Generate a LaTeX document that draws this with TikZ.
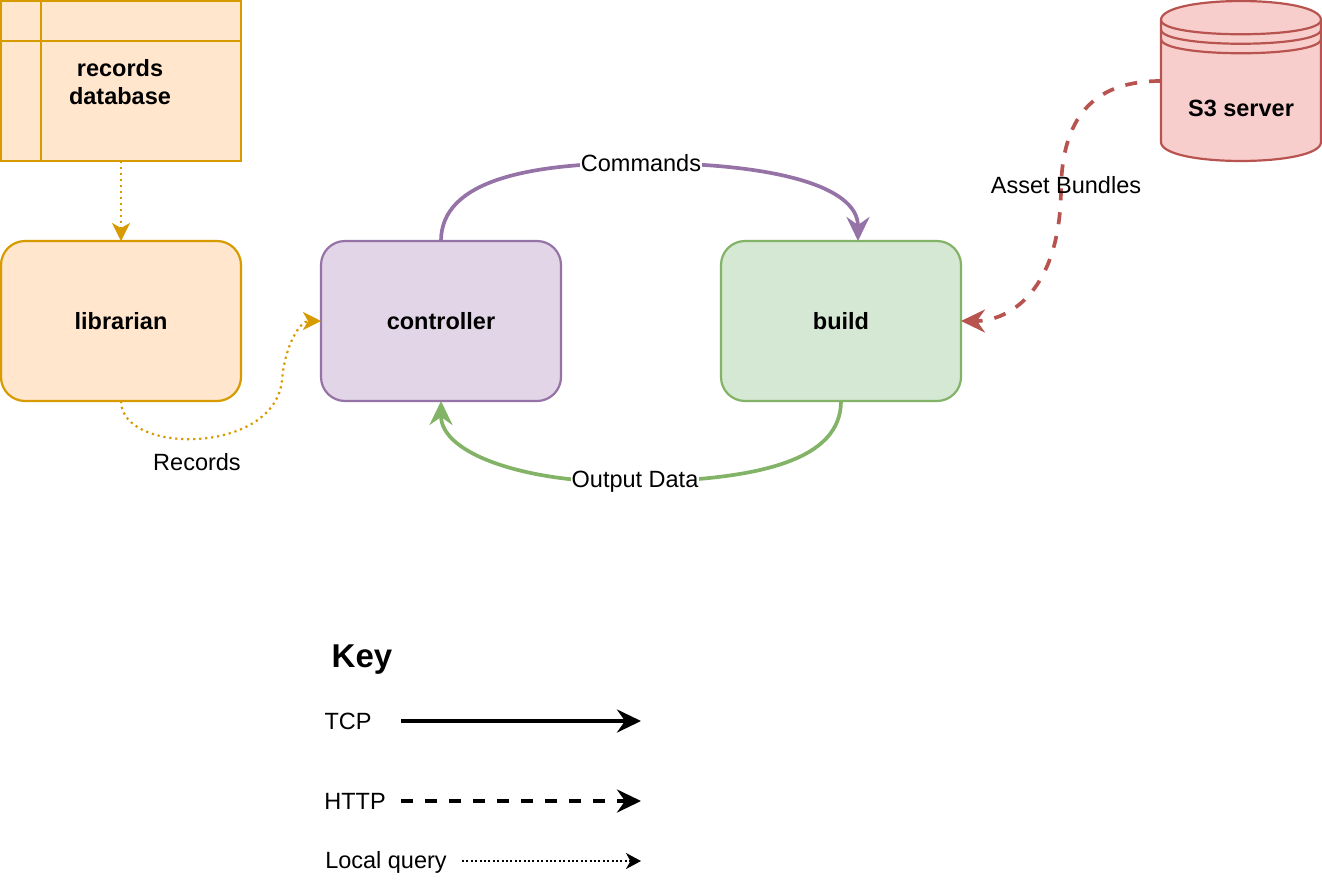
\documentclass[tikz,border=0pt]{standalone}
\usepackage{fontspec}
\setmainfont{Liberation Sans}
\usetikzlibrary{arrows.meta,calc}
\definecolor{orF}{HTML}{FFE6CC}
\definecolor{orS}{HTML}{D79B00}
\definecolor{puF}{HTML}{E1D5E7}
\definecolor{puS}{HTML}{9673A6}
\definecolor{grF}{HTML}{D5E8D4}
\definecolor{grS}{HTML}{82B366}
\definecolor{reF}{HTML}{F8CECC}
\definecolor{reS}{HTML}{B85450}
\begin{document}
\begin{tikzpicture}[x=1pt,y=-1pt,
  box/.style={draw, line width=2.2pt, minimum width=240pt, minimum height=160pt, inner sep=0pt, outer sep=0pt, rounded corners=24pt, font=\bfseries\fontsize{23.5pt}{28pt}\selectfont},
  btxt/.style={font=\bfseries\fontsize{23.5pt}{28pt}\selectfont, inner sep=0pt, align=center},
  lbl/.style={font=\fontsize{23.5pt}{28pt}\selectfont, inner sep=1pt},
  bigtip/.style={-{Stealth[length=24pt,width=23pt,inset=8pt]}},
  midtip/.style={-{Stealth[length=18pt,width=18pt,inset=5pt]}},
  smalltip/.style={-{Stealth[length=15pt,width=16pt,inset=4.5pt]}},
  thick3/.style={line width=3.7pt},
  dashed3/.style={line width=3.7pt, dash pattern=on 12pt off 12pt},
  dotted2/.style={line width=2.2pt, dash pattern=on 2.2pt off 3.8pt},
  dotted1/.style={line width=2pt, dash pattern=on 2pt off 2.4pt},
  cylline/.style={draw=reS, line width=2.2pt}]
\useasboundingbox (0,0) rectangle (1322,884);

% records database
\node[box, rounded corners=0pt, fill=orF, draw=orS] (db) at (121,81) {};
\draw[orS, line width=2.2pt] ($(db.north west)+(0,40)$) -- ($(db.north east)+(0,40)$);
\draw[orS, line width=2.2pt] ($(db.north west)+(40,0)$) -- ($(db.south west)+(40,0)$);
\node[btxt] (dbl) at (120,82) {records\\database};

% main boxes
\node[box, fill=orF, draw=orS] (lib) at (121,321) {librarian};
\node[box, fill=puF, draw=puS] (ctrl) at (441,321) {controller};
\node[box, fill=grF, draw=grS] (build) at (841,321) {build};

% S3 cylinder (datastore)
\node[minimum width=160pt, minimum height=160pt, inner sep=0pt, outer sep=0pt] (s3) at (1241,81) {};
\path[fill=reF, cylline] (1161,20) .. controls (1161,-5.3) and (1321,-5.3) .. (1321,20)
  -- (1321,142) .. controls (1321,167.3) and (1161,167.3) .. (1161,142) -- cycle;
\draw[cylline] (1161,20) .. controls (1161,39) and (1321,39) .. (1321,20);
\draw[cylline] (1161,29.5) .. controls (1161,48.5) and (1321,48.5) .. (1321,29.5);
\draw[cylline] (1161,39) .. controls (1161,58) and (1321,58) .. (1321,39);
\node[btxt] (s3l) at (1241,108) {S3 server};

% connectors
\draw[orS, dotted2, midtip] (db.south) -- (lib.north);

\draw[orS, dotted2, midtip] (lib.south) .. controls (121,455) and (275,455) .. (282,380)
  .. controls (285,345) and (300,321) .. (ctrl.west);
\node[lbl] (recl) at (197,462) {Records};

\coordinate (cmdpt) at (641,163);
\draw[puS, thick3, bigtip] (ctrl.north) .. controls (441,180) and (530,163) .. (cmdpt)
  .. controls (770,163) and (858,185) .. ([xshift=17pt]build.north);
\node[lbl, fill=white] (cmdl) at (cmdpt) {Commands};

\coordinate (outpt) at (635,482);
\draw[grS, thick3, bigtip] (build.south) .. controls (841,460) and (760,480) .. (outpt)
  .. controls (530,484) and (441,455) .. (ctrl.south);
\node[lbl, fill=white] (outl) at (outpt) {Output Data};

\coordinate (assetpt) at (1061,190);
\draw[reS, dashed3, bigtip] (s3.west) .. controls (1100,81) and (1062,110) .. (assetpt)
  .. controls (1060,290) and (1010,321) .. (build.east);
\node[lbl] (assetl) at (1066,185) {Asset Bundles};

% key
\node[font=\bfseries\fontsize{33pt}{38pt}\selectfont, inner sep=0pt] (key) at (362,660) {Key};
\node[lbl] (tcp) at (348,721) {TCP};
\node[lbl] (http) at (355,801) {HTTP};
\node[lbl] (lq) at (386,862) {Local query};
\coordinate (tcpA) at (401,721);
\coordinate (tcpB) at (641,721);
\coordinate (httpA) at (401,801);
\coordinate (httpB) at (641,801);
\coordinate (lqA) at (462,861);
\coordinate (lqB) at (641,861);
\draw[thick3, bigtip] (tcpA) -- (tcpB);
\draw[dashed3, bigtip] (httpA) -- (httpB);
\draw[dotted1, smalltip] (lqA) -- (lqB);
\end{tikzpicture}
\end{document}
